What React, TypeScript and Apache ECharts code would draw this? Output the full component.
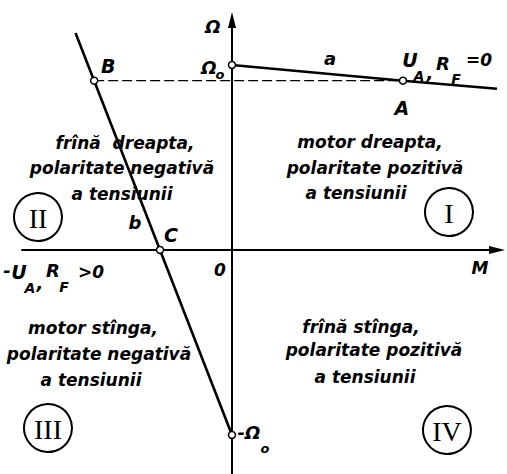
import React, { useEffect, useRef } from "react";
import * as echarts from "echarts";

// Characteristic a: U_A, R_F = 0 (torque M, speed Ω), relative units
const charA_M = [0, 1, 1.55];
const charA_W = [1, 0.915, 0.871];
// Characteristic b: -U_A, R_F > 0
const charB_M = [-0.915, -0.806, -0.421, 0];
const charB_W = [1.173, 0.915, 0, -1];
// Marked operating points
const pointNames = ["Ω0", "A", "B", "C", "-Ω0"];
const pointM = [0, 1, -0.806, -0.421, 0];
const pointW = [1, 0.915, 0.915, 0, -1];
// Horizontal dashed link B–A (same speed)
const dashM = [-0.806, 1];
const dashW = [0.915, 0.915];

const FONT = '"DejaVu Sans", sans-serif';
const SERIF = '"Liberation Serif", "DejaVu Serif", serif';

function txt(x: number, y: number, text: string, size = 17, align = "center") {
  return {
    type: "text",
    x,
    y,
    style: {
      text,
      fontSize: size,
      fontFamily: FONT,
      fontStyle: "italic",
      fontWeight: "bold",
      fill: "#000",
      align,
      verticalAlign: "middle",
    },
  };
}

function roman(cx: number, cy: number, text: string) {
  return [
    {
      type: "circle",
      shape: { cx, cy, r: 24 },
      style: { fill: "none", stroke: "#000", lineWidth: 2 },
    },
    {
      type: "text",
      x: cx,
      y: cy + 1,
      style: {
        text,
        fontSize: 28,
        fontFamily: SERIF,
        fill: "#000",
        align: "center",
        verticalAlign: "middle",
      },
    },
  ];
}

export default function App() {
  const ref = useRef<HTMLDivElement>(null);

  useEffect(() => {
    document.body.style.margin = "0";
    const chart = echarts.init(ref.current!, null, { renderer: "svg" });
    const pts = pointNames.map((n, i) => ({ name: n, value: [pointM[i], pointW[i]] }));
    const labelOffsets: Record<string, number[]> = {
      A: [-1, 27],
      B: [14, -15],
      C: [11, -15],
    };

    chart.setOption({
      animation: false,
      backgroundColor: "#fff",
      grid: { left: 22, right: 10, top: 20, bottom: 0 },
      xAxis: {
        type: "value",
        min: -1.228,
        max: 1.55,
        axisLine: {
          show: true,
          onZero: true,
          symbol: ["none", "triangle"],
          symbolSize: [8, 16],
          lineStyle: { color: "#000", width: 2 },
        },
        axisTick: { show: false },
        axisLabel: { show: false },
        splitLine: { show: false },
      },
      yAxis: {
        type: "value",
        min: -1.211,
        max: 1.243,
        axisLine: {
          show: true,
          onZero: true,
          symbol: ["none", "triangle"],
          symbolSize: [8, 16],
          lineStyle: { color: "#000", width: 2 },
        },
        axisTick: { show: false },
        axisLabel: { show: false },
        splitLine: { show: false },
      },
      series: [
        {
          type: "line",
          clip: false,
          data: dashM.map((m, i) => [m, dashW[i]]),
          symbol: "none",
          lineStyle: { color: "#000", width: 1.3, type: [10, 4] },
        },
        {
          type: "line",
          clip: false,
          data: charA_M.map((m, i) => [m, charA_W[i]]),
          symbol: "none",
          lineStyle: { color: "#000", width: 2.6 },
        },
        {
          type: "line",
          clip: false,
          data: charB_M.map((m, i) => [m, charB_W[i]]),
          symbol: "none",
          lineStyle: { color: "#000", width: 2.6 },
        },
        {
          type: "scatter",
          clip: false,
          data: pts,
          symbol: "circle",
          symbolSize: 7,
          itemStyle: { color: "#fff", borderColor: "#000", borderWidth: 1.5, opacity: 1 },
          label: {
            show: true,
            formatter: (p: any) => (labelOffsets[p.name] ? p.name : ""),
            position: "inside",
            fontSize: 19,
            fontFamily: FONT,
            fontStyle: "italic",
            fontWeight: "bold",
            color: "#000",
          },
          labelLayout: (p: any) => {
            const name = pointNames[p.dataIndex];
            const off = labelOffsets[name];
            if (!off) return {};
            return { dx: off[0], dy: off[1] };
          },
          z: 5,
        },
      ],
      graphic: [
        // axis names
        txt(213, 26, "Ω", 18),
        txt(480, 268, "M", 17),
        txt(220, 270, "0", 17),
        // Ω0 and -Ω0
        txt(209, 67, "Ω", 18),
        txt(220, 74, "o", 13),
        txt(249, 432, "-Ω", 18),
        txt(265, 448, "o", 13),
        // curve names
        txt(330, 58, "a", 18),
        txt(135, 222, "b", 18),
        // U_A, R_F = 0
        txt(410, 60, "U", 19),
        txt(419, 76, "A", 14),
        txt(430, 72, ",", 18),
        txt(443, 63, "R", 18),
        txt(456, 79, "F", 14),
        txt(479, 60, "=0", 17),
        // -U_A, R_F > 0
        txt(7, 270, "-", 18),
        txt(19, 272, "U", 19),
        txt(30, 288, "A", 14),
        txt(40, 282, ",", 18),
        txt(53, 270, "R", 18),
        txt(64, 287, "F", 14),
        txt(91, 272, ">0", 17),
        // quadrant I
        txt(370, 142, "motor dreapta,"),
        txt(375, 168, "polaritate pozitivă"),
        txt(356, 193, "a tensiunii"),
        // quadrant II
        txt(125, 143, "frînă  dreapta,"),
        txt(122, 168, "polaritate negativă"),
        txt(122, 194, "a tensiunii"),
        // quadrant III
        txt(93, 328, "motor stînga,"),
        txt(99, 354, "polaritate negativă"),
        txt(91, 380, "a tensiunii"),
        // quadrant IV
        txt(361, 327, "frînă stînga,"),
        txt(374, 350, "polaritate pozitivă"),
        txt(365, 377, "a tensiunii"),
        ...roman(38, 217, "II"),
        ...roman(449, 212, "I"),
        ...roman(48, 428, "III"),
        ...roman(447, 430, "IV"),
      ],
    });
    return () => chart.dispose();
  }, []);

  return (
    <div
      ref={ref}
      style={{ position: "absolute", left: 0, top: 0, width: 507, height: 474 }}
    />
  );
}
